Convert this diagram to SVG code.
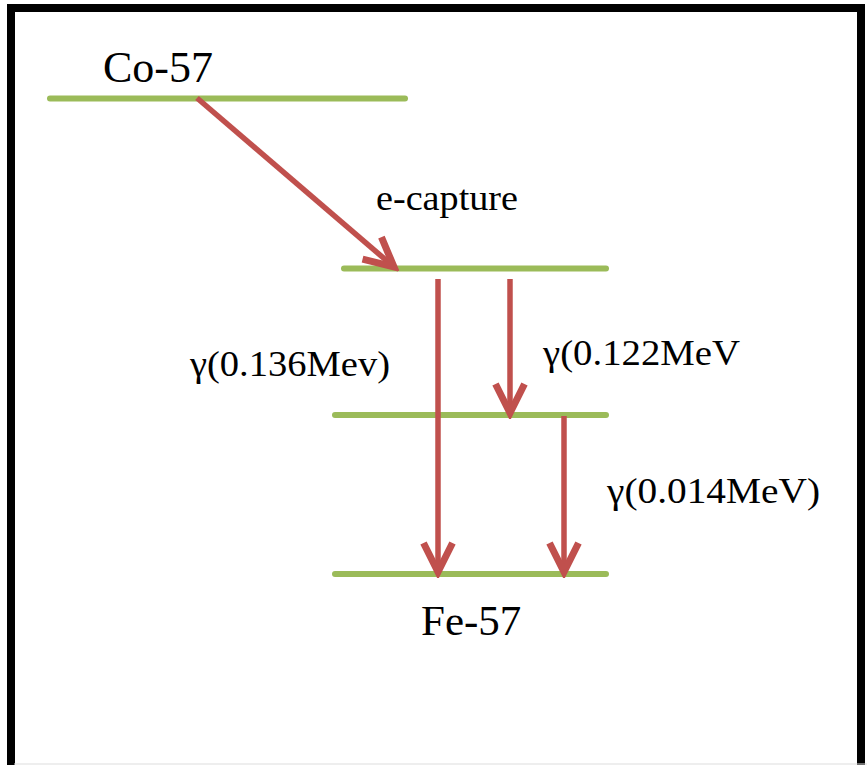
<svg xmlns="http://www.w3.org/2000/svg" width="867" height="765" viewBox="0 0 867 765">
<style>
.lvl{stroke:#9BBB59;stroke-width:6;stroke-linecap:round;fill:none}
.arr{stroke:#C0504D;stroke-width:5.5;fill:none;marker-end:url(#open)}
.t{font-family:"Liberation Serif","Times New Roman",serif;fill:#000}
</style>
<defs>
<marker id="open" markerUnits="userSpaceOnUse" viewBox="-36 -20 42 40" refX="0" refY="0" markerWidth="42" markerHeight="40" orient="auto">
<path d="M-29,-14.5 L0,0 L-29,14.5" stroke="#C0504D" stroke-width="7" fill="none" stroke-linejoin="miter"/>
</marker>
</defs>
<rect x="0" y="0" width="867" height="765" fill="#fff"/>
<rect x="11" y="8" width="850" height="800" fill="none" stroke="#000" stroke-width="8"/>
<line x1="14" y1="764" x2="867" y2="764" stroke="#ddd" stroke-width="1"/>
<g id="level-co57"><line class="lvl" x1="50" y1="98.5" x2="405" y2="98.5"/><text class="t" x="103" y="82" font-size="44">Co-57</text></g>
<g id="level-136"><line class="lvl" x1="344" y1="268.5" x2="606" y2="268.5"/></g>
<g id="level-14"><line class="lvl" x1="335" y1="415" x2="606" y2="415"/></g>
<g id="level-fe57"><line class="lvl" x1="335" y1="574" x2="606" y2="574"/><text class="t" x="421" y="635" font-size="43">Fe-57</text></g>
<g id="connectors">
<line class="arr" x1="197" y1="98" x2="394" y2="267"/>
<line class="arr" x1="438" y1="279" x2="438" y2="572"/>
<line class="arr" x1="510" y1="279" x2="510" y2="413"/>
<line class="arr" x1="564" y1="416" x2="564" y2="572"/>
</g>
<g id="labels">
<text class="t" x="376" y="210" font-size="36" textLength="142" lengthAdjust="spacingAndGlyphs">e-capture</text>
<text class="t" x="190" y="376" font-size="35" textLength="200" lengthAdjust="spacingAndGlyphs">γ(0.136Mev)</text>
<text class="t" x="543" y="365" font-size="35" textLength="197" lengthAdjust="spacingAndGlyphs">γ(0.122MeV</text>
<text class="t" x="607" y="503" font-size="35" textLength="213" lengthAdjust="spacingAndGlyphs">γ(0.014MeV)</text>
</g>
</svg>
